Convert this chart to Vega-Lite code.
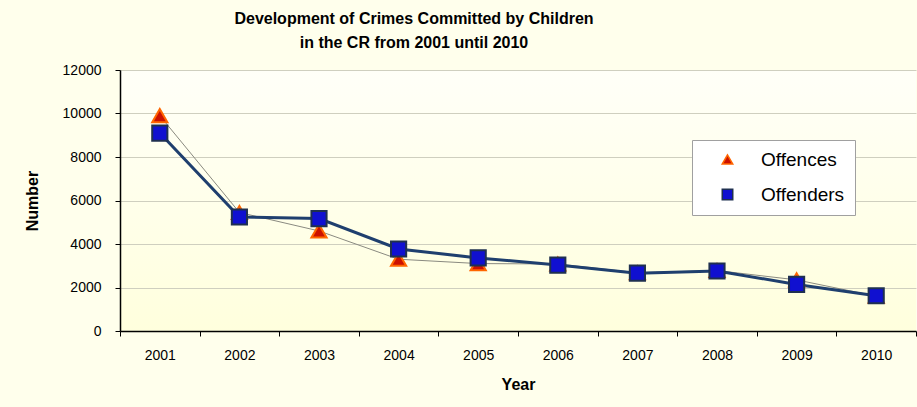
{
  "$schema": "https://vega.github.io/schema/vega-lite/v6.json",
  "autosize": "none",
  "width": 796,
  "height": 261,
  "padding": {"left": 120, "top": 70, "right": 1, "bottom": 76},
  "background": "#FFFFEC",
  "config": {
    "font": "Liberation Sans",
    "view": {"stroke": null, "fill": {"gradient": "linear", "x1": 0, "y1": 0, "x2": 0, "y2": 1, "stops": [{"offset": 0, "color": "#FFFFF8"}, {"offset": 1, "color": "#FFFFDD"}]}}
  },
  "title": {
    "text": ["Development of Crimes Committed by Children", "in the CR from 2001 until  2010"],
    "fontSize": 16,
    "fontWeight": "bold",
    "lineHeight": 24,
    "anchor": "middle",
    "dx": -104,
    "offset": 12,
    "color": "#000000"
  },
  "data": {
    "values": [
      {"year": "2001", "series": "Offences", "value": 9900},
      {"year": "2002", "series": "Offences", "value": 5450},
      {"year": "2003", "series": "Offences", "value": 4600},
      {"year": "2004", "series": "Offences", "value": 3300},
      {"year": "2005", "series": "Offences", "value": 3100},
      {"year": "2006", "series": "Offences", "value": 3080},
      {"year": "2007", "series": "Offences", "value": 2680},
      {"year": "2008", "series": "Offences", "value": 2780},
      {"year": "2009", "series": "Offences", "value": 2350},
      {"year": "2010", "series": "Offences", "value": 1600},
      {"year": "2001", "series": "Offenders", "value": 9100},
      {"year": "2002", "series": "Offenders", "value": 5240},
      {"year": "2003", "series": "Offenders", "value": 5170},
      {"year": "2004", "series": "Offenders", "value": 3770},
      {"year": "2005", "series": "Offenders", "value": 3360},
      {"year": "2006", "series": "Offenders", "value": 3030},
      {"year": "2007", "series": "Offenders", "value": 2660},
      {"year": "2008", "series": "Offenders", "value": 2760},
      {"year": "2009", "series": "Offenders", "value": 2140},
      {"year": "2010", "series": "Offenders", "value": 1620}
    ]
  },
  "encoding": {
    "x": {
      "field": "year", "type": "ordinal",
      "scale": {"type": "band", "paddingInner": 0, "paddingOuter": 0},
      "axis": {
        "title": "Year", "titleFontSize": 16, "titleFontWeight": "bold", "titleColor": "#000",
        "labelAngle": 0, "labelFontSize": 14, "labelColor": "#000", "labelPadding": 12,
        "tickBand": "extent", "tickSize": 5, "tickColor": "#000", "domainColor": "#000", "domainWidth": 1.5,
        "titlePadding": 14, "grid": false
      }
    },
    "y": {
      "field": "value", "type": "quantitative",
      "scale": {"domain": [0, 12000]},
      "axis": {
        "title": "Number", "titleFontSize": 16, "titleFontWeight": "bold", "titleColor": "#000",
        "values": [0, 2000, 4000, 6000, 8000, 10000, 12000], "format": "d",
        "labelFontSize": 14, "labelColor": "#000", "labelPadding": 14,
        "tickSize": 5, "tickColor": "#000", "domainColor": "#000", "domainWidth": 1.5,
        "gridColor": "#cfcfbf", "gridWidth": 1, "titlePadding": 22
      }
    }
  },
  "layer": [
    {
      "transform": [{"filter": "datum.series === 'Offences'"}],
      "mark": {"type": "line", "stroke": "#8a8a80", "strokeWidth": 1},
      "encoding": {}
    },
    {
      "transform": [{"filter": "datum.series === 'Offenders'"}],
      "mark": {"type": "line", "stroke": "#1F3F6E", "strokeWidth": 3},
      "encoding": {}
    },
    {
      "mark": {"type": "point", "filled": true, "opacity": 1, "strokeWidth": 2, "size": 230},
      "encoding": {
        "shape": {"field": "series", "type": "nominal", "scale": {"domain": ["Offences", "Offenders"], "range": ["triangle-up", "square"]},
          "legend": {"title": null, "orient": "none", "legendX": 572, "legendY": 70, "fillColor": "#FFFFFF", "strokeColor": "#A0A0A0", "padding": 10, "labelFontSize": 19, "labelColor": "#000", "symbolSize": 110, "rowPadding": 15, "symbolOffset": 16, "labelOffset": 24}},
        "fill": {"field": "series", "type": "nominal", "scale": {"domain": ["Offences", "Offenders"], "range": ["#CC1100", "#1010D0"]}},
        "stroke": {"field": "series", "type": "nominal", "scale": {"domain": ["Offences", "Offenders"], "range": ["#FF6600", "#1F3050"]}}
      }
    }
  ]
}
